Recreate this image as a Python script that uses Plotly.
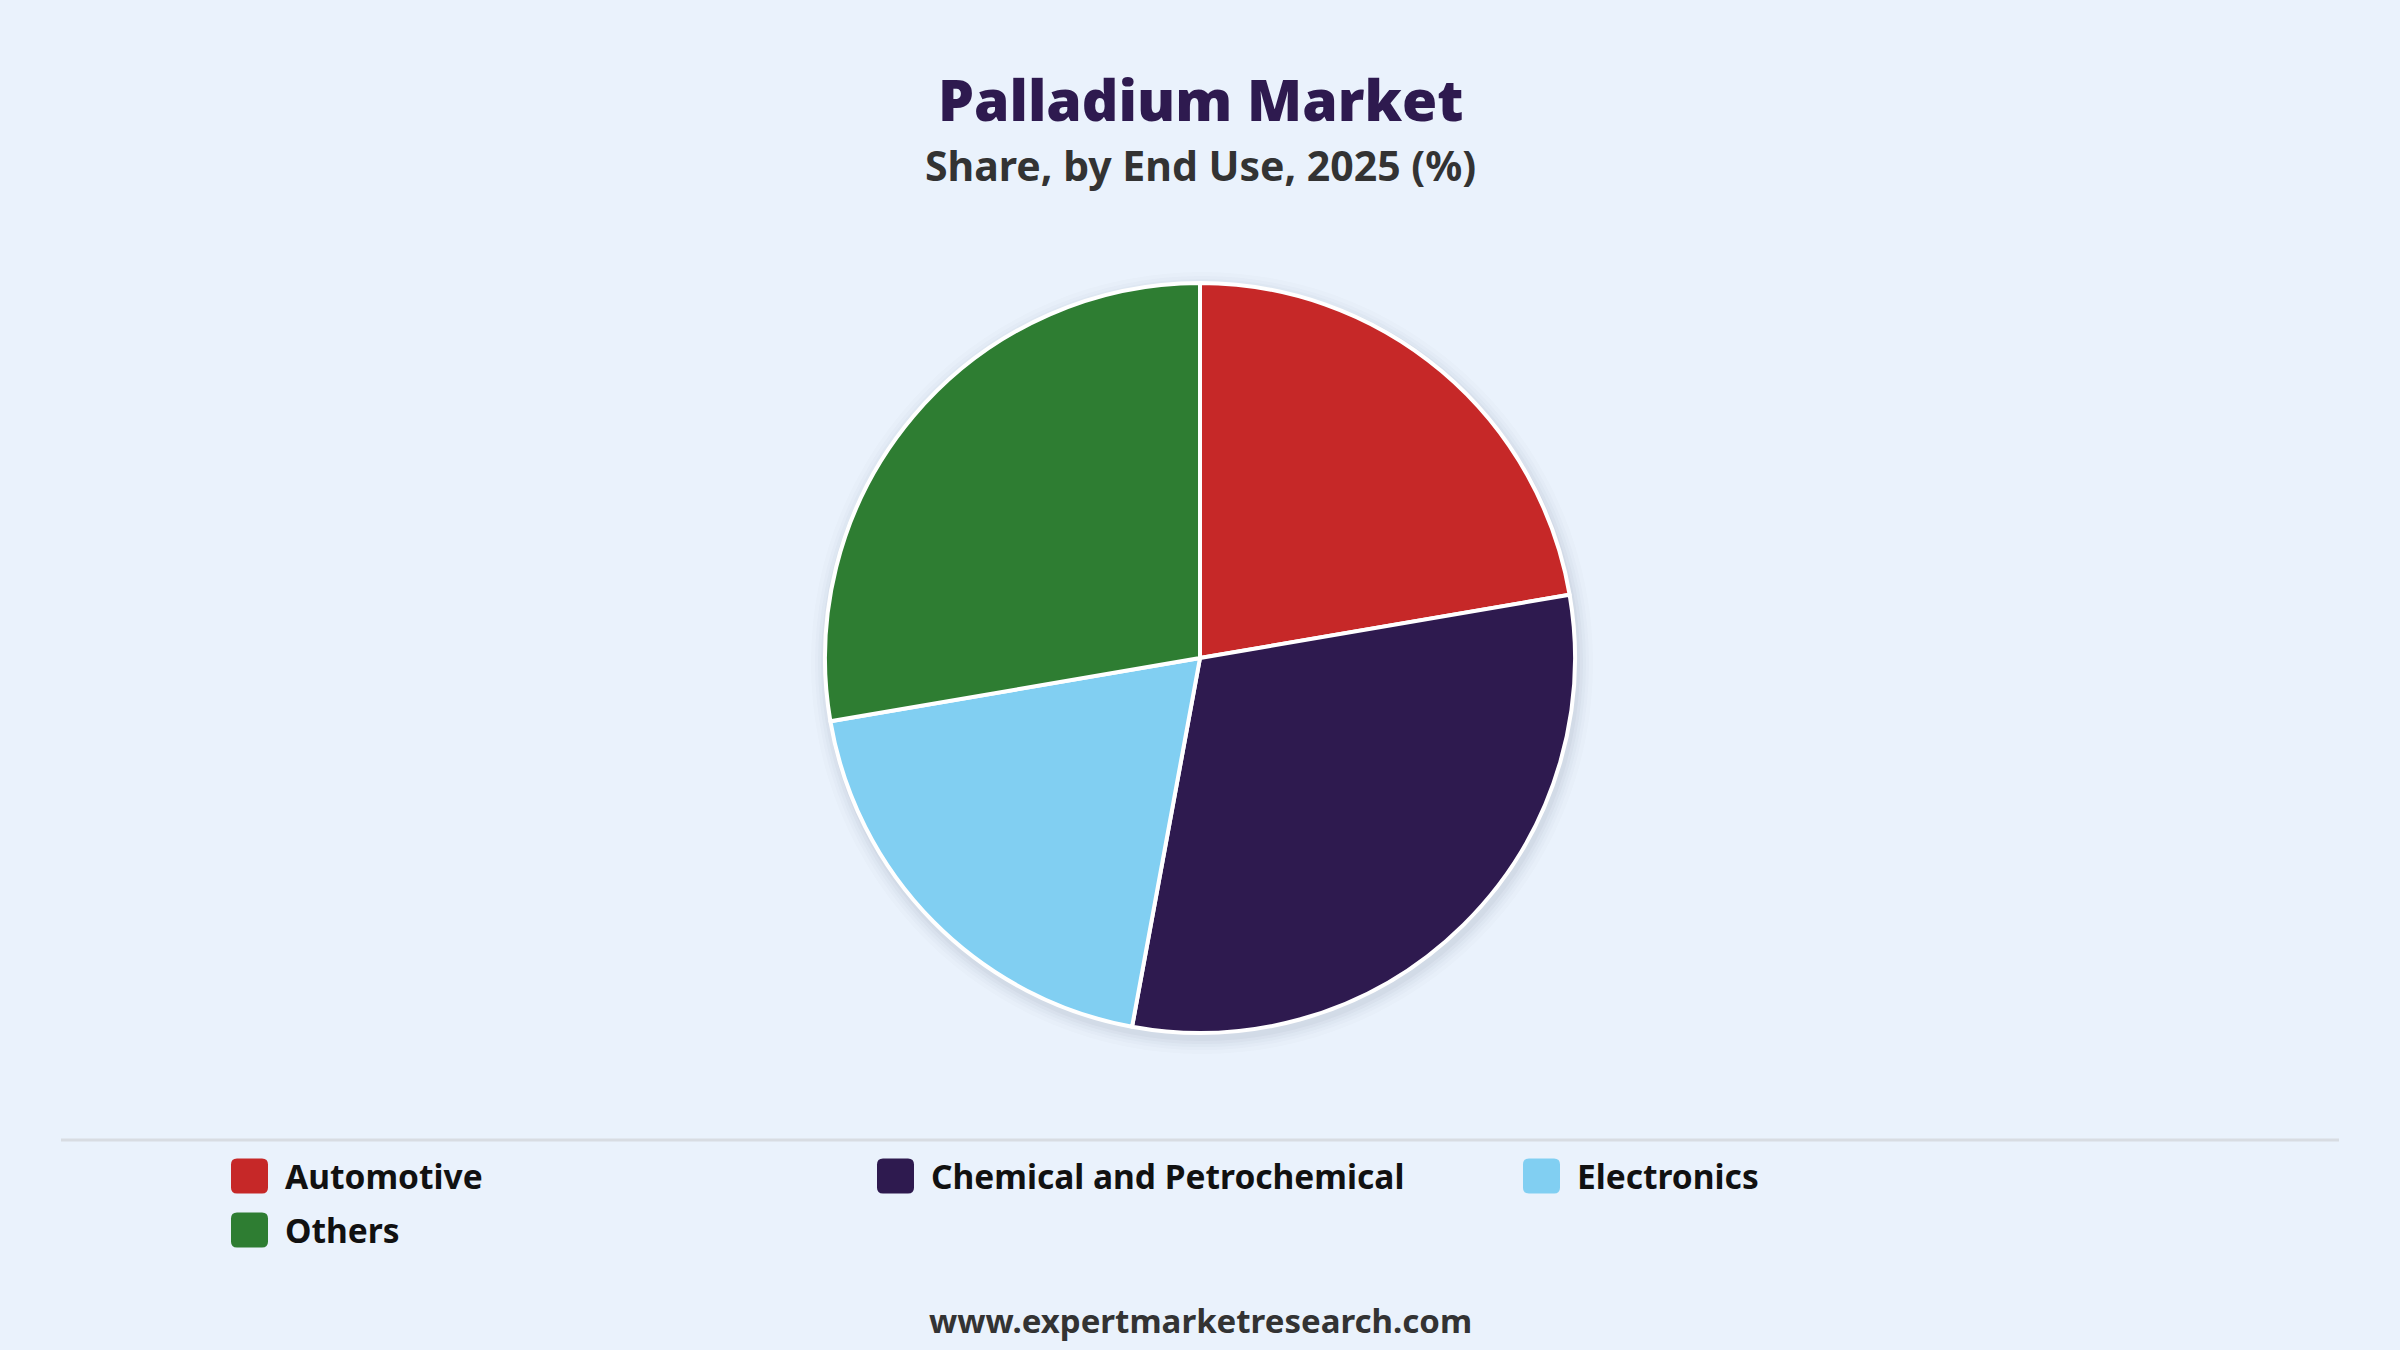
import plotly.graph_objects as go

# ---- data ----
labels = ["Automotive", "Chemical and Petrochemical", "Electronics", "Others"]
values = [22.3, 30.6, 19.4, 27.7]
colors = ["#C62828", "#2E1A4F", "#81CFF2", "#2E7D32"]

title_text = "Palladium Market"
subtitle_text = "Share, by End Use, 2025 (%)"
footer_text = "www.expertmarketresearch.com"

W, H = 2400, 1350
BG = "#EAF2FC"
FONT = "Noto Sans"


def px(x):
    return x / W


def py(y):
    return 1 - y / H


# pie geometry (pixels)
cx, cy, r = 1200, 658, 375

fig = go.Figure()
fig.add_trace(go.Pie(
    labels=labels,
    values=values,
    marker=dict(colors=colors, line=dict(color="white", width=4)),
    sort=False,
    direction="clockwise",
    rotation=0,
    textinfo="none",
    hoverinfo="label+percent",
    showlegend=False,
    domain=dict(x=[0, 1], y=[py(cy + r), py(cy - r)]),
))

shapes = []
# soft shadow behind pie
for i, (dr, op) in enumerate([(16, 0.015), (12, 0.02), (9, 0.025), (6, 0.03), (3, 0.04)]):
    shapes.append(dict(
        type="circle", xref="paper", yref="paper", layer="below",
        x0=px(cx - r - dr + 2), x1=px(cx + r + dr + 2),
        y0=py(cy + r + dr + 5), y1=py(cy - r - dr + 5),
        fillcolor=f"rgba(60,70,90,{op})", line=dict(width=0),
    ))

# separator line
shapes.append(dict(type="line", xref="paper", yref="paper",
                   x0=px(61), x1=px(2339), y0=py(1140), y1=py(1140),
                   line=dict(color="#D8DCE2", width=3)))

annotations = []
# custom legend
col_x = [231, 877, 1523]
row_y = [1176, 1230]
sw_w, sw_h, rad = 37, 35, 6
for i, (lab, col) in enumerate(zip(labels, colors)):
    x0 = col_x[i % 3]
    yc = row_y[i // 3]
    x1 = x0 + sw_w
    y0 = yc - sw_h / 2
    y1 = yc + sw_h / 2
    path = (
        f"M {px(x0 + rad)},{py(y0)} L {px(x1 - rad)},{py(y0)} "
        f"Q {px(x1)},{py(y0)} {px(x1)},{py(y0 + rad)} "
        f"L {px(x1)},{py(y1 - rad)} Q {px(x1)},{py(y1)} {px(x1 - rad)},{py(y1)} "
        f"L {px(x0 + rad)},{py(y1)} Q {px(x0)},{py(y1)} {px(x0)},{py(y1 - rad)} "
        f"L {px(x0)},{py(y0 + rad)} Q {px(x0)},{py(y0)} {px(x0 + rad)},{py(y0)} Z"
    )
    shapes.append(dict(type="path", xref="paper", yref="paper", path=path,
                       fillcolor=col, line=dict(width=0)))
    annotations.append(dict(
        x=px(x1 + 15), y=py(yc), xref="paper", yref="paper",
        xanchor="left", yanchor="middle", showarrow=False,
        text=lab, font=dict(family=FONT, size=33.5, color="#111111", weight=700),
    ))

# titles & footer
annotations.append(dict(x=0.5, y=py(99), xref="paper", yref="paper",
                        xanchor="center", yanchor="middle", showarrow=False,
                        text=title_text,
                        font=dict(family=FONT, size=57, color="#2E1A4F", weight=900)))
annotations.append(dict(x=0.5, y=py(165), xref="paper", yref="paper",
                        xanchor="center", yanchor="middle", showarrow=False,
                        text=subtitle_text,
                        font=dict(family=FONT, size=41, color="#333333", weight=700)))
annotations.append(dict(x=0.5, y=py(1320), xref="paper", yref="paper",
                        xanchor="center", yanchor="middle", showarrow=False,
                        text=footer_text,
                        font=dict(family=FONT, size=33, color="#333333", weight=700)))

fig.update_layout(
    width=W, height=H,
    paper_bgcolor=BG, plot_bgcolor=BG,
    margin=dict(l=0, r=0, t=0, b=0),
    shapes=shapes,
    annotations=annotations,
    showlegend=False,
)

fig.write_html(
    "out.html",
    config={"displayModeBar": False},
    post_script="document.body.style.margin='0';document.body.style.background='" + BG + "';",
)
